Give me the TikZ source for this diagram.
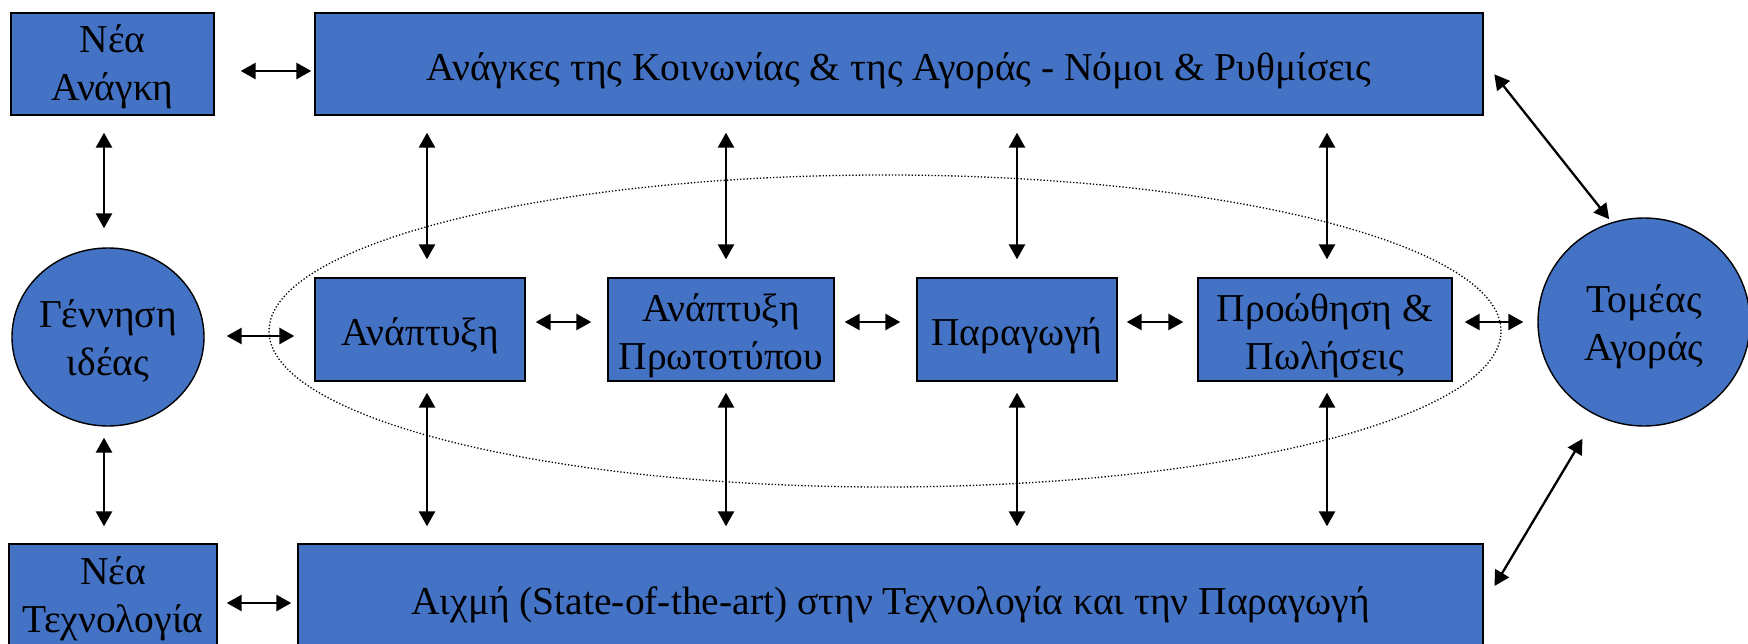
\documentclass[tikz,border=0pt]{standalone}
\usepackage{fontspec}
\setmainfont{Liberation Serif}
\usetikzlibrary{arrows.meta,shapes.geometric,calc}
\definecolor{boxblue}{HTML}{4472C4}
\begin{document}
\begin{tikzpicture}[x=1pt,y=-1pt,
  box/.style={draw=black, line width=1.4pt, fill=boxblue, rectangle, inner sep=0pt},
  oval/.style={box, ellipse},
  boxtext/.style={text=black, inner sep=0pt, font=\fontsize{39.5}{48}\selectfont, align=center},
  arr/.style={{Triangle[length=15pt,width=16pt]}-{Triangle[length=15pt,width=16pt]}, line width=2.7pt},
  dots/.style={draw=black, line width=1.3pt, dash pattern=on 1.3pt off 2pt, ellipse, inner sep=0pt},
]
\useasboundingbox (0,0) rectangle (1748,644);
\fill[white] (0,0) rectangle (1748,644);

% dotted loop
\node[dots, minimum width=1232pt, minimum height=312pt] (loop) at (885,331) {};

% shapes
\node[box, minimum width=203pt, minimum height=102pt] (nea1) at (112.5,64) {};
\node[box, minimum width=1168pt, minimum height=102pt] (top) at (899,64) {};
\node[oval, minimum width=192pt, minimum height=178pt] (gen) at (108,337) {};
\node[box, minimum width=210pt, minimum height=103pt] (anapt) at (420,329.5) {};
\node[box, minimum width=226pt, minimum height=103pt] (proto) at (721,329.5) {};
\node[box, minimum width=200pt, minimum height=103pt] (parag) at (1017,329.5) {};
\node[box, minimum width=254pt, minimum height=103pt] (proo) at (1325,329.5) {};
\node[oval, minimum width=212pt, minimum height=208pt] (tomeas) at (1644,322) {};
\node[box, minimum width=208pt, minimum height=106pt] (nea2) at (113,597) {};
\node[box, minimum width=1185pt, minimum height=106pt] (bottom) at (890.5,597) {};

% texts
\node[boxtext] (nea1t) at ([yshift=-3pt]nea1.center) {Νέα\\Ανάγκη};
\node[boxtext] (topt) at ([yshift=-7pt]top.center) {Ανάγκες της Κοινωνίας \& της Αγοράς - Νόμοι \& Ρυθμίσεις};
\node[boxtext] (gent) at ([yshift=-4pt]gen.center) {Γέννηση\\ιδέας};
\node[boxtext] (anaptt) at ([yshift=-6pt]anapt.center) {Ανάπτυξη};
\node[boxtext] (protot) at ([yshift=-6pt]proto.center) {Ανάπτυξη\\Πρωτοτύπου};
\node[boxtext] (paragt) at ([yshift=-6pt]parag.center) {Παραγωγή};
\node[boxtext] (proot) at ([yshift=-6pt]proo.center) {Προώθηση \&\\Πωλήσεις};
\node[boxtext] (tomeast) at ([yshift=-5pt]tomeas.center) {Τομέας\\Αγοράς};
\node[boxtext] (nea2t) at ([yshift=-2pt]nea2.center) {Νέα\\Τεχνολογία};
\node[boxtext] (bottomt) at ([yshift=-8pt]bottom.center) {Αιχμή (State-of-the-art) στην Τεχνολογία και την Παραγωγή};

% left column
\draw[arr, shorten <=26pt, shorten >=3pt] ([yshift=-7pt]nea1.east) -- ([yshift=-7pt]top.west);
\draw[arr, shorten <=17pt, shorten >=19pt] ([xshift=-8.5pt]nea1.south) -- ([xshift=-4pt]gen.north);
\draw[arr, shorten <=11pt, shorten >=17pt] ([xshift=-4pt]gen.south) -- ([xshift=-9pt]nea2.north);
\draw[arr, shorten <=9pt, shorten >=6pt] ([yshift=-6pt]nea2.east) -- ([yshift=-6pt]bottom.west);

% middle row
\draw[arr, shorten <=22pt, shorten >=20pt] ([yshift=1pt]gen.east) -- ([yshift=1pt]gen.east -| anapt.west);
\draw[arr, shorten <=10pt, shorten >=16pt] ([yshift=7.5pt]anapt.east) -- ([yshift=7.5pt]proto.west);
\draw[arr, shorten <=10pt, shorten >=16pt] ([yshift=7.5pt]proto.east) -- ([yshift=7.5pt]parag.west);
\draw[arr, shorten <=9pt, shorten >=14pt] ([yshift=7.5pt]parag.east) -- ([yshift=7.5pt]proo.west);
\draw[arr, shorten <=12pt, shorten >=14pt] ([yshift=7.5pt]proo.east) -- ([yshift=7.5pt]proo.east -| tomeas.west);

% verticals to top and bottom bars
\foreach \n/\s in {anapt/7, proto/5, parag/0, proo/2}{
  \draw[arr, shorten <=18pt, shorten >=17pt] ([xshift=\s pt]\n.north) -- ([xshift=\s pt]\n.north |- top.south);
  \draw[arr, shorten <=11pt, shorten >=17pt] ([xshift=\s pt]\n.south) -- ([xshift=\s pt]\n.south |- bottom.north);
}

% diagonals
\draw[arr, line width=2.3pt, shorten <=17pt, shorten >=4pt] ([yshift=3pt]top.east) -- (tomeas.108);
\draw[arr, line width=2.3pt, shorten <=21pt, shorten >=27pt] ([yshift=-7pt]bottom.east) -- (tomeas.243);
\end{tikzpicture}
\end{document}
